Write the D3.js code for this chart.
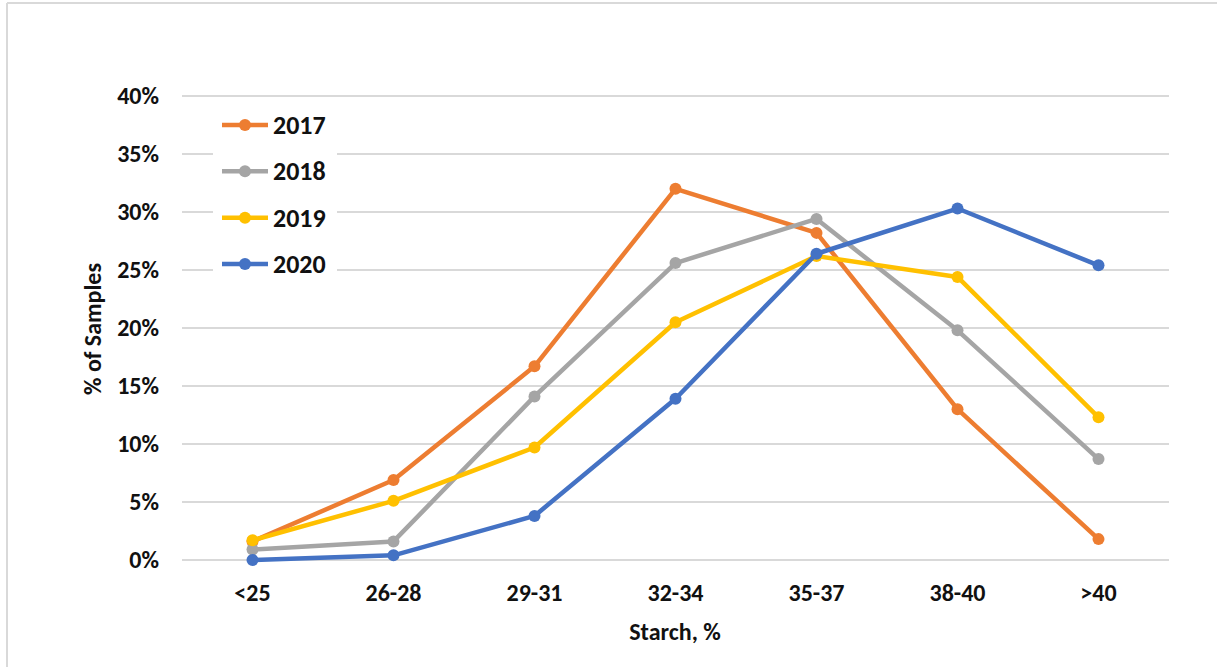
<!DOCTYPE html>
<html>
<head>
<meta charset="utf-8">
<script src="https://cdn.jsdelivr.net/npm/d3@7"></script>
<style>
  body { margin: 0; background: #fff; }
  text { font-family: Calibri, Carlito, "Liberation Sans", Arial, sans-serif; font-weight: bold; fill: #111; }
</style>
</head>
<body>
<div class="container"></div>
<script>
// Starch distribution by year

const categories = ["<25", "26-28", "29-31", "32-34", "35-37", "38-40", ">40"];
const years = ["2017", "2018", "2019", "2020"];
const colors = ["#ed7d31", "#a5a5a5", "#ffc000", "#4472c4"];

const v2017 = [1.6, 6.9, 16.7, 32.0, 28.2, 13.0, 1.8];
const v2018 = [0.9, 1.6, 14.1, 25.6, 29.4, 19.8, 8.7];
const v2019 = [1.7, 5.1, 9.7, 20.5, 26.2, 24.4, 12.3];
const v2020 = [0.0, 0.4, 3.8, 13.9, 26.4, 30.3, 25.4];

const yTicks = [0, 5, 10, 15, 20, 25, 30, 35, 40];

const series = years.map((y, i) => ({
  name: y,
  color: colors[i],
  values: [v2017, v2018, v2019, v2020][i]
}));

const width = 1217, height = 667;
const plot = { left: 182, right: 1169, top: 96, bottom: 560 };

const svg = d3.select(".container")
  .append("svg")
  .attr("width", width)
  .attr("height", height)
  .style("display", "block");

// chart frame (only top and left edges show)
svg.append("line")
  .attr("x1", 7).attr("x2", width).attr("y1", 3).attr("y2", 3)
  .attr("stroke", "#d9d9d9").attr("stroke-width", 2);
svg.append("line")
  .attr("x1", 7).attr("x2", 7).attr("y1", 3).attr("y2", height)
  .attr("stroke", "#d9d9d9").attr("stroke-width", 2);

const x = d3.scaleBand()
  .domain(categories)
  .range([plot.left, plot.right]);

const y = d3.scaleLinear()
  .domain([0, 40])
  .range([plot.bottom, plot.top]);

// gridlines
svg.append("g")
  .selectAll("line")
  .data(yTicks)
  .join("line")
    .attr("x1", plot.left)
    .attr("x2", plot.right)
    .attr("y1", d => y(d))
    .attr("y2", d => y(d))
    .attr("stroke", "#d9d9d9")
    .attr("stroke-width", 2);

// y tick labels
svg.append("g")
  .selectAll("text")
  .data(yTicks)
  .join("text")
    .attr("x", 159)
    .attr("y", d => y(d))
    .attr("dy", "0.35em")
    .attr("text-anchor", "end")
    .style("font-size", "24px")
    .text(d => d + "%");

// x tick labels
svg.append("g")
  .selectAll("text")
  .data(categories)
  .join("text")
    .attr("x", d => x(d) + x.bandwidth() / 2)
    .attr("y", 593)
    .attr("dy", "0.35em")
    .attr("text-anchor", "middle")
    .style("font-size", "24px")
    .text(d => d);

// axis titles
svg.append("text")
  .attr("x", 675)
  .attr("y", 632)
  .attr("dy", "0.35em")
  .attr("text-anchor", "middle")
  .style("font-size", "24px")
  .text("Starch, %");

svg.append("text")
  .attr("transform", "translate(93,329) rotate(-90)")
  .attr("dy", "0.35em")
  .attr("text-anchor", "middle")
  .style("font-size", "24px")
  .text("% of Samples");

// legend (white box hides gridlines)
const legend = svg.append("g");
legend.append("rect")
  .attr("x", 213).attr("y", 104)
  .attr("width", 124).attr("height", 180)
  .attr("fill", "#fff");

const legendY = d3.scalePoint()
  .domain(years)
  .range([125, 264]);

const item = legend.selectAll("g")
  .data(series)
  .join("g")
    .attr("transform", d => `translate(0,${legendY(d.name)})`);
item.append("line")
  .attr("x1", 222).attr("x2", 268)
  .attr("stroke", d => d.color)
  .attr("stroke-width", 4.5);
item.append("circle")
  .attr("cx", 245).attr("r", 6)
  .attr("fill", d => d.color);
item.append("text")
  .attr("x", 273)
  .attr("dy", "0.35em")
  .style("font-size", "26px")
  .text(d => d.name);

// lines and markers
const line = d3.line()
  .x((d, i) => x(categories[i]) + x.bandwidth() / 2)
  .y(d => y(d));

const lines = svg.append("g")
  .selectAll("g")
  .data(series)
  .join("g");

lines.append("path")
  .attr("d", d => line(d.values))
  .attr("fill", "none")
  .attr("stroke", d => d.color)
  .attr("stroke-width", 4.5)
  .attr("stroke-linejoin", "round");

lines.selectAll("circle")
  .data(d => d.values.map(v => ({ v, color: d.color })))
  .join("circle")
    .attr("cx", (d, i) => x(categories[i]) + x.bandwidth() / 2)
    .attr("cy", d => y(d.v))
    .attr("r", 6)
    .attr("fill", d => d.color);
</script>
</body>
</html>
